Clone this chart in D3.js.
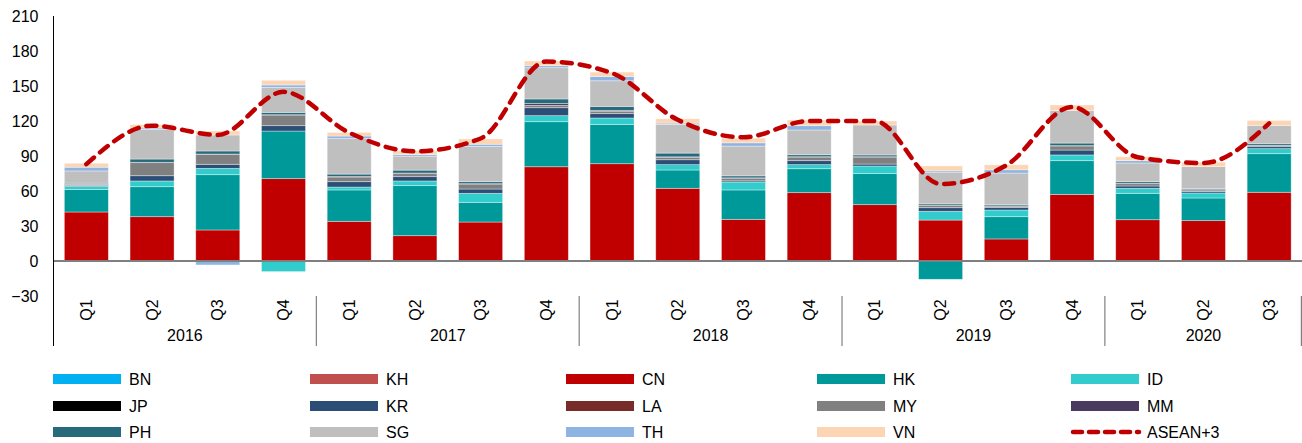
<!DOCTYPE html>
<html><head><meta charset="utf-8">
<script src="https://cdn.jsdelivr.net/npm/d3@7"></script>
<style>
body{margin:0;background:#fff}
svg text{font-family:"Liberation Sans",Arial,sans-serif;fill:#000}
</style>
</head><body>
<svg id="chart" width="1302" height="443"></svg>
<script>
// ---- DATA ----
const quarters = ["Q1","Q2","Q3","Q4","Q1","Q2","Q3","Q4","Q1","Q2","Q3","Q4","Q1","Q2","Q3","Q4","Q1","Q2","Q3"];
const yearOf   = ["2016","2016","2016","2016","2017","2017","2017","2017","2018","2018","2018","2018","2019","2019","2019","2019","2020","2020","2020"];
const years = ["2016","2017","2018","2019","2020"];
const yTicks = [-30,0,30,60,90,120,150,180,210];

const BN = [0,0,0,0,0,0,0,0,0,0,0,0,0,0,0,0,0,0,0];
const KH = [0,0,0,0,0,0,0,0,0,0,0,0,0,0,0,0,0,0,0];
const CN = [42,38,26.6,70.6,34,21.7,33.4,80.8,83.4,62.3,35.7,58.6,48.3,35.1,18.9,57.1,35.4,34.6,58.9];
const HK = [19.4,25.7,47.4,40.8,26.9,42.9,16.9,38.6,33.7,15.7,25.2,20.5,26.6,-15.7,19.1,28.9,22.6,19.4,33.1];
const ID = [2.6,4.9,5.4,-9.1,2.5,4,7.7,5.2,5.5,4.6,6.8,3.5,6.5,7.5,5.7,4.9,4.3,4.3,4.3];
const JP = [0,0,0,0,0,0,0,0,0,0,0,0,0,0,0,0,0,0,0];
const KR = [0.8,4.5,3.5,4.6,4.6,3.7,3.7,6.8,3.7,4.2,1.0,3.4,1.7,3.1,2.3,4.2,2.0,1.4,1.7];
const LA = [0,0,0,0,0,0,0,0,0,0,0,0,0,0,0,0,0,0,0];
const MY = [0.8,11.2,8.5,9.1,4.0,2.6,3.8,2.0,2.0,2.0,2.3,3.1,6.0,1.8,1.0,3.5,2.0,1.2,1.0];
const MM = [0.3,0.3,0.3,0.3,0.5,0.5,0.8,1.7,0.8,0.5,0.3,0.3,0.3,0.3,0.3,0.3,0.3,0.3,0.3];
const PH = [0.8,2.8,2.6,2.0,2.0,2.5,1.7,3.8,3.4,3.2,1.7,1.7,1.5,1.2,1.2,2.2,1.4,0.9,1.5];
const SG = [10.5,25.5,13.7,21.5,30.5,12,30.3,26.8,22,24.6,25.5,21.2,25.7,26.8,26.9,27.8,16,18.8,15.4];
const TH = [3.2,1.1,-3.4,2,2.1,1.4,1.8,1.7,3.7,1.1,2.8,3.7,0,1.4,2.8,0,2,0,0];
const VN = [3.4,2.9,3.4,4,3.1,3.2,4.5,4,3.7,3.7,4,4.9,3.4,4.3,4.3,4.8,3.4,3.8,4.3];
const ASEAN3 = [83,116,108,145,110,94,105,171,161,121,106,120,120,66,82,132,89,84,118];

const seriesNames = ["BN","KH","CN","HK","ID","JP","KR","LA","MY","MM","PH","SG","TH","VN"];
const seriesValues = {BN,KH,CN,HK,ID,JP,KR,LA,MY,MM,PH,SG,TH,VN};
const colors = {BN:"#00B0F0",KH:"#C0504D",CN:"#C00000",HK:"#009999",ID:"#33CCCC",JP:"#000000",
  KR:"#2C4D75",LA:"#772C2A",MY:"#808080",MM:"#4B3A5F",PH:"#276A7C",SG:"#BFBFBF",TH:"#8EB4E3",VN:"#FCD5B5"};
const lineColor = "#C00000";

// ---- CHART ----
const svg = d3.select("#chart");
const plotLeft = 53.5, plotRight = 1302, plotTop = 16, plotBottom = 296;

const x = d3.scaleBand().domain(d3.range(quarters.length)).range([plotLeft, plotRight])
  .paddingInner(0.33).paddingOuter(0.165);
const y = d3.scaleLinear().domain([-30,210]).range([plotBottom, plotTop]);

const rows = quarters.map((q,i) => {
  const r = {i};
  seriesNames.forEach(k => r[k] = seriesValues[k][i]);
  return r;
});
const stacked = d3.stack().keys(seriesNames).offset(d3.stackOffsetDiverging)(rows);

// bars
svg.append("g").selectAll("g").data(stacked).join("g")
  .attr("fill", d => colors[d.key])
  .selectAll("rect").data(d => d).join("rect")
  .attr("x", d => x(d.data.i))
  .attr("width", x.bandwidth())
  .attr("y", d => y(Math.max(d[0], d[1])))
  .attr("height", d => Math.abs(y(d[0]) - y(d[1])))
  .attr("stroke", "rgba(255,255,255,0.45)")
  .attr("stroke-width", 0.8);

// zero line
svg.append("line")
  .attr("x1", plotLeft).attr("x2", plotRight)
  .attr("y1", y(0)).attr("y2", y(0))
  .attr("stroke", "#7F7F7F").attr("stroke-width", 2);

// y axis
const yAxis = svg.append("g").attr("transform", `translate(${plotLeft},0)`)
  .call(d3.axisLeft(y).tickValues(yTicks).tickSize(0).tickPadding(15));
yAxis.select(".domain").remove();
yAxis.selectAll("text").attr("font-size", 16).style("font-family", "'Liberation Sans',Arial,sans-serif");
svg.append("line").attr("x1", plotLeft).attr("x2", plotLeft).attr("y1", plotTop).attr("y2", 346)
  .attr("stroke", "#000").attr("stroke-width", 1);

// x axis quarters
const xAxis = svg.append("g").attr("transform", `translate(0,${plotBottom})`)
  .call(d3.axisBottom(x).tickSize(0).tickFormat(i => quarters[i]));
xAxis.select(".domain").remove();
xAxis.selectAll("text")
  .attr("font-size", 16)
  .style("font-family", "'Liberation Sans',Arial,sans-serif")
  .attr("transform", "translate(0,14) rotate(-90)")
  .attr("x", 0).attr("y", 0).attr("dy", "0.35em")
  .attr("text-anchor", "middle");

// year groups
const yearStart = years.map(yr => yearOf.indexOf(yr));
const yearEnd = years.map(yr => yearOf.lastIndexOf(yr));
const step = x.step();
const bound = i => x(i) - x.paddingInner() * step / 2;
years.forEach((yr, k) => {
  const x0 = bound(yearStart[k]);
  const x1 = yearEnd[k] === quarters.length - 1 ? plotRight : bound(yearEnd[k] + 1);
  svg.append("text").attr("x", (x0 + x1) / 2).attr("y", 341)
    .attr("text-anchor", "middle").attr("font-size", 16).text(yr);
  if (k > 0) {
    svg.append("line").attr("x1", x0).attr("x2", x0).attr("y1", 296).attr("y2", 346)
      .attr("stroke", "#808080").attr("stroke-width", 1.2);
  }
});
svg.append("line").attr("x1", plotRight - 0.6).attr("x2", plotRight - 0.6).attr("y1", 296).attr("y2", 346)
  .attr("stroke", "#808080").attr("stroke-width", 1.2);

// ASEAN+3 line
const line = d3.line()
  .x((d, i) => x(i) + x.bandwidth() / 2)
  .y(d => y(d))
  .curve(d3.curveMonotoneX);
svg.append("path").datum(ASEAN3)
  .attr("d", line).attr("fill", "none")
  .attr("stroke", lineColor).attr("stroke-width", 4.5)
  .attr("stroke-dasharray", "10,8").attr("stroke-linecap", "round");

// legend
const legendItems = seriesNames.map(k => ({name: k, type: "bar"})).concat([{name: "ASEAN+3", type: "line"}]);
const colX = [53, 310, 566, 817, 1071];
const rowY = [379, 406, 432];
const lg = svg.append("g");
legendItems.forEach((d, i) => {
  const cx = colX[i % 5], cy = rowY[Math.floor(i / 5)];
  if (d.type === "bar") {
    lg.append("rect").attr("x", cx).attr("y", cy - 5).attr("width", 68).attr("height", 10)
      .attr("fill", colors[d.name]);
  } else {
    lg.append("line").attr("x1", cx + 2).attr("x2", cx + 68).attr("y1", cy).attr("y2", cy)
      .attr("stroke", lineColor).attr("stroke-width", 4.5)
      .attr("stroke-dasharray", "9,7").attr("stroke-linecap", "round");
  }
  lg.append("text").attr("x", cx + 76).attr("y", cy).attr("dy", "0.36em")
    .attr("font-size", 16).text(d.name);
});
</script>
</body></html>
